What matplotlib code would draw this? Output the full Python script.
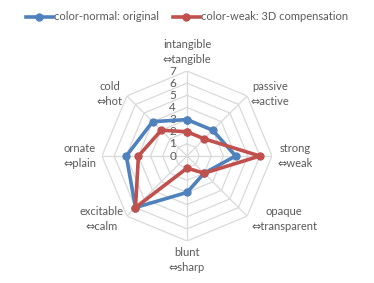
import numpy as np
import matplotlib
matplotlib.use("Agg")
import matplotlib.pyplot as plt
from matplotlib.lines import Line2D

plt.rcParams['font.family'] = ['Lato', 'DejaVu Sans']

# axis categories, clockwise from top
categories = ["intangible\n\u21d4tangible", "passive\n\u21d4active", "strong\n\u21d4weak",
              "opaque\n\u21d4transparent", "blunt\n\u21d4sharp", "excitable\n\u21d4calm",
              "ornate\n\u21d4plain", "cold\n\u21d4hot"]
original = [3, 3, 4, 2, 3, 6, 5, 4]
compensation = [2, 2, 6, 2, 1, 6, 4, 3]
tick_values = [0, 1, 2, 3, 4, 5, 6, 7]
series_names = ["color-normal: original", "color-weak: 3D compensation"]

blue = "#4F81BD"
red = "#C0504D"
grid_color = "#D9D9D9"
text_color = "#595959"

# label offsets in pixels from each outer vertex
label_offsets = [(0, 19), (23, 2), (23, 0), (37, -3), (0, -19), (-25, -3), (-22, 0), (-17, 2)]

fig = plt.figure(figsize=(3.74, 2.83), dpi=100)
ax = fig.add_axes([0.5 - 0.2273, 0.4488 - 0.3004, 0.4546, 0.6007], projection='polar')
ax.set_theta_zero_location('N')
ax.set_theta_direction(-1)
ax.set_ylim(0, tick_values[-1])
ax.grid(False)
ax.spines['polar'].set_visible(False)
ax.set_xticks([])
ax.set_yticks([])
ax.patch.set_alpha(0)

n = len(categories)
angles = np.arange(n) * 2 * np.pi / n
closed = np.append(angles, angles[0])

# octagon grid
for r in tick_values[1:]:
    ax.plot(closed, [r] * (n + 1), color=grid_color, lw=0.9, zorder=1)
for a in angles:
    ax.plot([a, a], [0, tick_values[-1]], color=grid_color, lw=0.9, zorder=1)

# radial tick labels
for r in tick_values:
    ax.annotate(str(r), xy=(0, r), xytext=(-11, 0), textcoords='offset pixels',
                ha='right', va='center', fontsize=8.5, color=text_color)

# category labels
for a, lab, off in zip(angles, categories, label_offsets):
    ax.annotate(lab, xy=(a, tick_values[-1]), xytext=off, textcoords='offset pixels',
                ha='center', va='center', fontsize=8, color=text_color,
                linespacing=1.45, annotation_clip=False)

ax.plot(closed, original + original[:1], color=blue, lw=2.6, marker='o', ms=5, zorder=3)
ax.plot(closed, compensation + compensation[:1], color=red, lw=2.6, marker='o', ms=5, zorder=4)

handles = [Line2D([], [], color=blue, lw=2.6, marker='o', ms=5),
           Line2D([], [], color=red, lw=2.6, marker='o', ms=5)]
fig.legend(handles, series_names, loc='center', bbox_to_anchor=(0.5, 0.94), ncol=2,
           frameon=False, fontsize=8, handlelength=2.4, handletextpad=0.1,
           columnspacing=1.3, labelcolor=text_color)

fig.savefig("out.png", dpi=100)
